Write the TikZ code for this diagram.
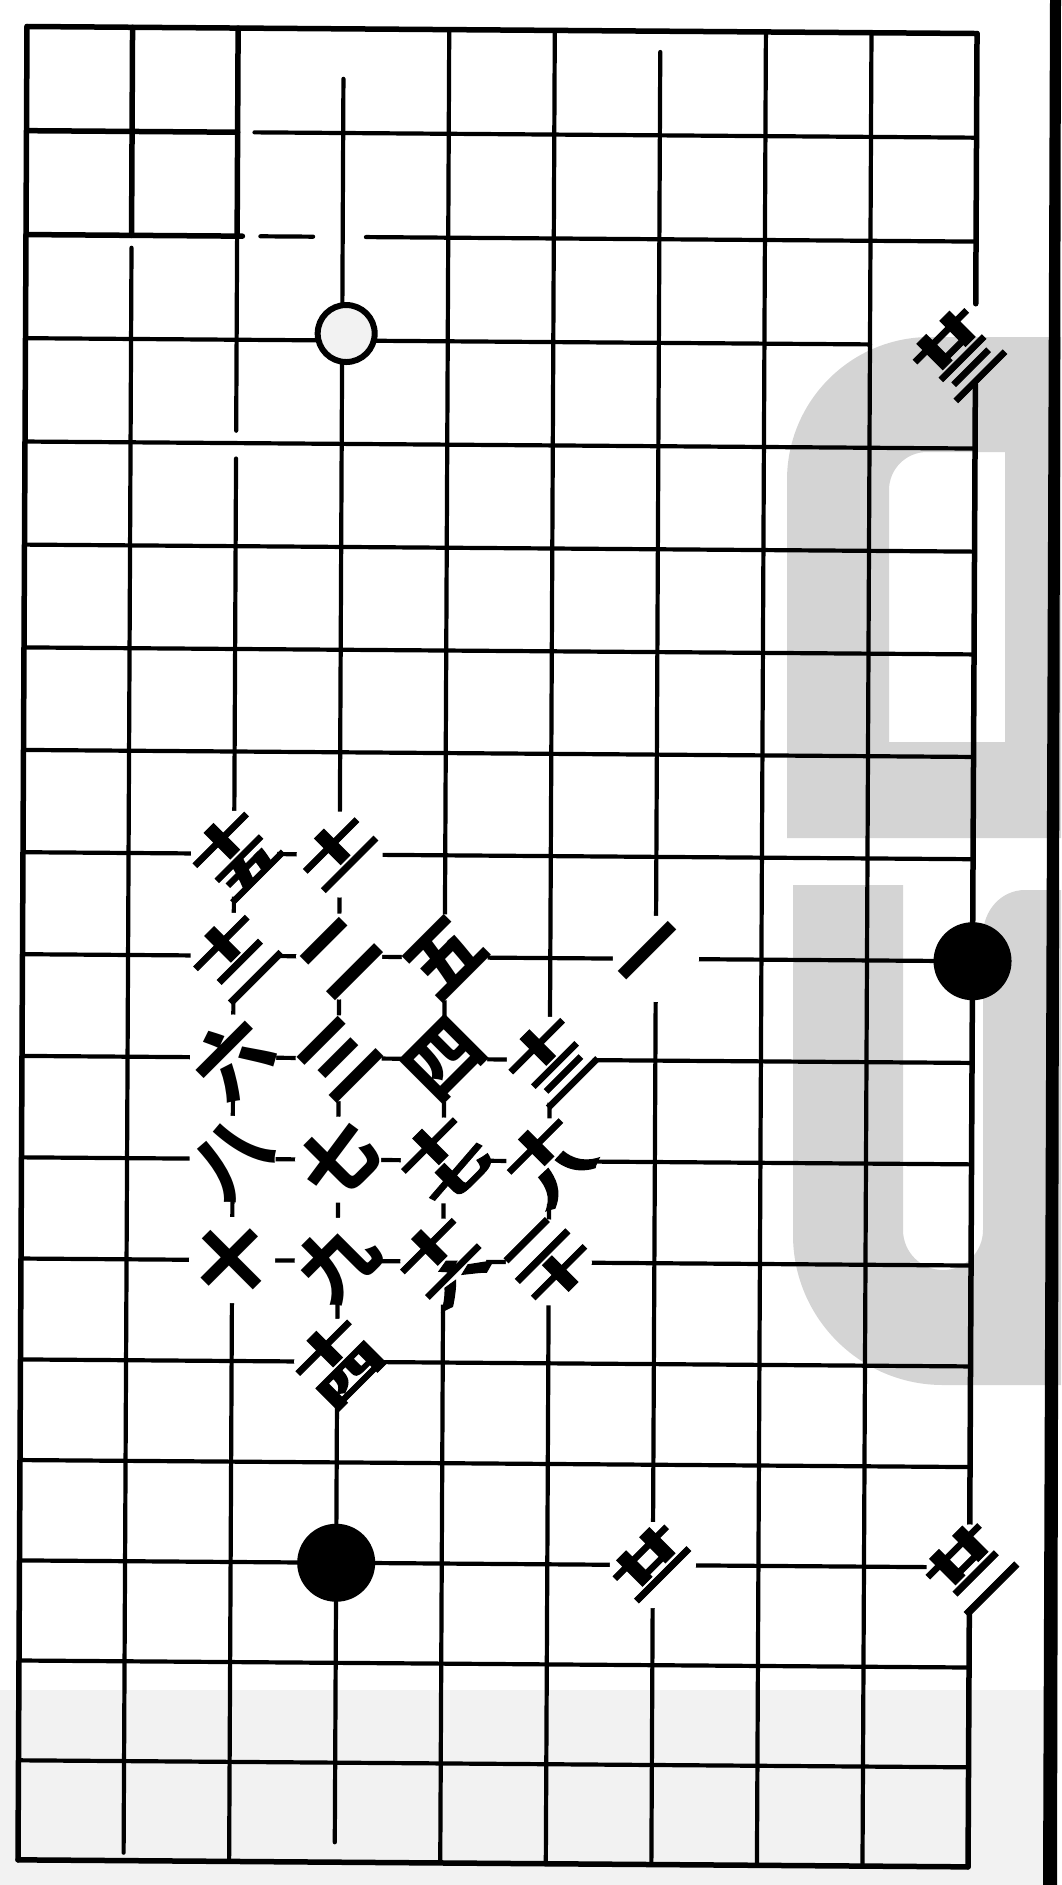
\documentclass[tikz,border=0pt]{standalone}
\usepackage{fontspec}
\usepackage{graphicx}
\newfontfamily\cjk{Noto Sans CJK SC}
\newfontfamily\cjkheavy[FakeBold=2]{Noto Sans CJK SC}
\usetikzlibrary{calc}
\newcommand\twoch[2]{\vbox{\offinterlineskip\hbox{\scalebox{1}[0.5]{#1}}\kern3pt\hbox{\scalebox{1}[0.5]{#2}}}}
\begin{document}
\begin{tikzpicture}[x=1pt,y=-1pt,
  gridline/.style={line width=4.2pt, line cap=round},
  edgeline/.style={line width=5.5pt, line cap=round},
  glyph/.style={font=\cjk\bfseries\fontsize{76}{76}\selectfont, rotate=45, inner sep=0pt},
  pairglyph/.style={font=\cjkheavy\bfseries\fontsize{78}{78}\selectfont, rotate=45, inner sep=0pt},
  blackstone/.style={circle, fill=black, minimum size=78pt, inner sep=0pt},
  whitestone/.style={circle, draw=black, line width=6pt, fill=black!5, minimum size=57pt, inner sep=0pt},
  wmark/.style={black!17}
]
\useasboundingbox (0,0) rectangle (1061,1885);
\fill[white] (0,0) rectangle (1061,1885);
% scan tint at the bottom
\fill[black!5] (0,1690) rectangle (1044,1885);
% watermark shapes
\fill[wmark, even odd rule] (787,838) -- (787,480) arc[start angle=180, end angle=90, radius=143pt] -- (1061,337) -- (1061,838) -- cycle
  (889,742) -- (889,490) arc[start angle=180, end angle=90, radius=38pt] -- (1005,452) -- (1005,742) -- cycle;
\fill[wmark] (793,885) -- (903,885) -- (903,1230) arc[start angle=180, end angle=360, radius=40pt] -- (983,935) to[out=90,in=180] (1025,890) -- (1061,890) -- (1061,1385) -- (943,1385) arc[start angle=270, end angle=180, radius=150pt] -- cycle;
% binding edge
\fill[black] (1050,0) -- (1061,0) -- (1057,1885) -- (1043,1885) -- cycle;
% grid points
\foreach \c in {0,...,9}{\foreach \r in {0,...,18}{
  \pgfmathsetmacro\px{27+105.56*\c-0.5*\r}
  \pgfmathsetmacro\py{26.5+0.78*\c+104.3*\r-0.136*\r*\r}
  \coordinate (p\c-\r) at (\px,\py);
}}
% columns
\draw[edgeline] (p0-0) \foreach \r in {1,...,18}{-- (p0-\r)};
\draw[edgeline] (p1-0) -- (p1-1) -- (p1-2);
\draw[gridline] ($(p1-2)!0.12!(p1-3)$) \foreach \r in {3,...,17}{-- (p1-\r)} -- ($(p1-17)!0.92!(p1-18)$);
\draw[edgeline] (p2-0) -- (p2-1) -- (p2-2);
\draw[gridline] (p2-2) -- (p2-3) -- ($(p2-3)!0.88!(p2-4)$);
\draw[gridline] ($(p2-4)!0.15!(p2-5)$) \foreach \r in {5,...,18}{-- (p2-\r)};
\draw[gridline] ($(p3-0)!0.48!(p3-1)$) \foreach \r in {1,...,17}{-- (p3-\r)} -- ($(p3-17)!0.8!(p3-18)$);
\draw[gridline] (p4-0) \foreach \r in {1,...,18}{-- (p4-\r)};
\draw[gridline] (p5-0) \foreach \r in {1,...,18}{-- (p5-\r)};
\draw[gridline] ($(p6-0)!0.2!(p6-1)$) \foreach \r in {1,...,18}{-- (p6-\r)};
\draw[gridline] (p7-0) \foreach \r in {1,...,18}{-- (p7-\r)};
\draw[gridline] (p8-0) \foreach \r in {1,...,18}{-- (p8-\r)};
\draw[edgeline] (p9-0) -- (p9-1) -- (p9-2) -- ($(p9-2)!0.6!(p9-3)$);
\draw[edgeline] ($(p9-3)!0.38!(p9-4)$) \foreach \r in {4,...,18}{-- (p9-\r)};
% rows
\draw[edgeline] (p0-0) -- (p9-0);
\draw[edgeline] (p0-1) -- (p2-1);
\draw[gridline] ($(p0-1)!0.24!(p9-1)$) -- (p9-1);
\draw[edgeline] (p0-2) -- ($(p0-2)!0.2278!(p9-2)$);
\draw[gridline] ($(p0-2)!0.2467!(p9-2)$) -- ($(p0-2)!0.3022!(p9-2)$);
\draw[gridline] ($(p0-2)!0.3578!(p9-2)$) -- (p9-2);
\draw[gridline] (p0-3) -- (p8-3);
\foreach \r in {4,...,17}{\draw[gridline] (p0-\r) -- (p9-\r);}
\draw[edgeline] (p0-18) -- (p9-18);
% stones
\node[whitestone] (w1) at ($(p3-3)+(4,-7)$) {};
\node[blackstone] (b1) at (p9-9) {};
\node[blackstone] (b2) at (p3-15) {};
% clear the lines under the numbers
\foreach \p in {p6-9,p3-9,p3-10,p4-10,p4-9,p2-10,p3-11,p2-11,p3-12,p2-12,p3-8,p2-9,p5-10,p3-13,p2-8,p4-12,p4-11,p5-11,p5-12,p6-15,p9-15}{
  \fill[white] (\p) circle (43pt);
}
% move numbers
\node[glyph] (n1) at (p6-9) {一};
\node[glyph] (n2) at (p3-9) {二};
\node[glyph] (n3) at (p3-10) {三};
\node[glyph] (n4) at (p4-10) {四};
\node[glyph] (n5) at (p4-9) {五};
\node[glyph] (n6) at (p2-10) {六};
\node[glyph] (n7) at (p3-11) {七};
\node[glyph] (n8) at (p2-11) {八};
\node[glyph] (n9) at (p3-12) {九};
\node[glyph] (n10) at (p2-12) {十};
\node[pairglyph] (n11) at (p3-8) {\twoch{十}{一}};
\node[pairglyph] (n12) at (p2-9) {\twoch{十}{二}};
\node[pairglyph] (n13) at (p5-10) {\twoch{十}{三}};
\node[pairglyph] (n14) at (p3-13) {\twoch{十}{四}};
\node[pairglyph] (n15) at (p2-8) {\twoch{十}{五}};
\node[pairglyph] (n16) at (p4-12) {\twoch{十}{六}};
\node[pairglyph] (n17) at (p4-11) {\twoch{十}{七}};
\node[pairglyph] (n18) at (p5-11) {\twoch{十}{八}};
\node[pairglyph] (n20) at (p5-12) {\twoch{二}{十}};
\node[pairglyph] (n21) at (p6-15) {\twoch{廿}{一}};
\node[pairglyph] (n22) at (p9-15) {\twoch{廿}{二}};
\node[pairglyph] (n23) at ($(p9-3)+(-18,8)$) {\twoch{廿}{三}};
\end{tikzpicture}
\end{document}
